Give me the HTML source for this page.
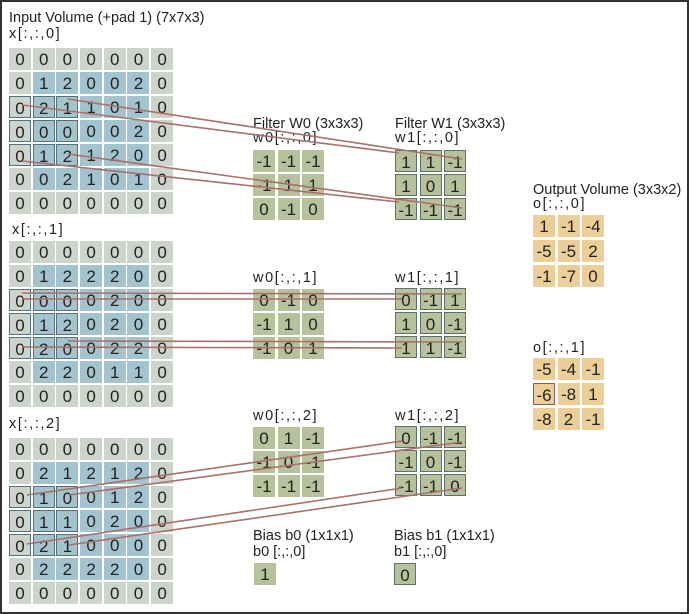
<!DOCTYPE html>
<html><head><style>
body{margin:0;background:#fff}
#f{position:relative;width:685px;height:610px;border:2px solid #333;overflow:hidden;font-family:"Liberation Sans",sans-serif;color:#222}
.g{position:absolute;display:grid;grid-template-columns:repeat(7,22px);column-gap:1.7px;row-gap:2px}
.g3{grid-template-columns:repeat(3,22px);column-gap:2.5px}
.g b{display:block;width:22px;height:22px;line-height:23px;text-align:center;font-weight:normal;font-size:17px;background:#a3c3ce;box-sizing:border-box}
.g b.p{background:#cdd4cb}
.g b.h{border:1.5px solid #55707a}
.w b{background:#b7c29c}
.w1 b{background:#b7c29c;border:1.5px solid #5d7268}
.o b{background:#eccf98}
.o b.r{border:1.5px solid #8a5a55}
.l{position:absolute;font-size:14.5px;line-height:15px;white-space:nowrap}
.l.i{letter-spacing:1.6px}
svg{position:absolute;left:0;top:0}
</style></head><body><div id="f">
<div class="l" style="left:7px;top:9px">Input Volume (+pad 1) (7x7x3)</div>
<div class="l i" style="left:7px;top:25px">x[:,:,0]</div>
<div class="g" style="left:7px;top:46px">
<b class="p">0</b><b class="p">0</b><b class="p">0</b><b class="p">0</b><b class="p">0</b><b class="p">0</b><b class="p">0</b>
<b class="p">0</b><b>1</b><b>2</b><b>0</b><b>0</b><b>2</b><b class="p">0</b>
<b class="p h">0</b><b class="h">2</b><b class="h">1</b><b>1</b><b>0</b><b>1</b><b class="p">0</b>
<b class="p h">0</b><b class="h">0</b><b class="h">0</b><b>0</b><b>0</b><b>2</b><b class="p">0</b>
<b class="p h">0</b><b class="h">1</b><b class="h">2</b><b>1</b><b>2</b><b>0</b><b class="p">0</b>
<b class="p">0</b><b>0</b><b>2</b><b>1</b><b>0</b><b>1</b><b class="p">0</b>
<b class="p">0</b><b class="p">0</b><b class="p">0</b><b class="p">0</b><b class="p">0</b><b class="p">0</b><b class="p">0</b>
</div>
<div class="l i" style="left:10px;top:221px">x[:,:,1]</div>
<div class="g" style="left:7px;top:239px">
<b class="p">0</b><b class="p">0</b><b class="p">0</b><b class="p">0</b><b class="p">0</b><b class="p">0</b><b class="p">0</b>
<b class="p">0</b><b>1</b><b>2</b><b>2</b><b>2</b><b>0</b><b class="p">0</b>
<b class="p h">0</b><b class="h">0</b><b class="h">0</b><b>0</b><b>2</b><b>0</b><b class="p">0</b>
<b class="p h">0</b><b class="h">1</b><b class="h">2</b><b>0</b><b>2</b><b>0</b><b class="p">0</b>
<b class="p h">0</b><b class="h">2</b><b class="h">0</b><b>0</b><b>2</b><b>2</b><b class="p">0</b>
<b class="p">0</b><b>2</b><b>2</b><b>0</b><b>1</b><b>1</b><b class="p">0</b>
<b class="p">0</b><b class="p">0</b><b class="p">0</b><b class="p">0</b><b class="p">0</b><b class="p">0</b><b class="p">0</b>
</div>
<div class="l i" style="left:7px;top:415px">x[:,:,2]</div>
<div class="g" style="left:7px;top:436px">
<b class="p">0</b><b class="p">0</b><b class="p">0</b><b class="p">0</b><b class="p">0</b><b class="p">0</b><b class="p">0</b>
<b class="p">0</b><b>2</b><b>1</b><b>2</b><b>1</b><b>2</b><b class="p">0</b>
<b class="p h">0</b><b class="h">1</b><b class="h">0</b><b>0</b><b>1</b><b>2</b><b class="p">0</b>
<b class="p h">0</b><b class="h">1</b><b class="h">1</b><b>0</b><b>2</b><b>0</b><b class="p">0</b>
<b class="p h">0</b><b class="h">2</b><b class="h">1</b><b>0</b><b>0</b><b>0</b><b class="p">0</b>
<b class="p">0</b><b>2</b><b>2</b><b>2</b><b>2</b><b>0</b><b class="p">0</b>
<b class="p">0</b><b class="p">0</b><b class="p">0</b><b class="p">0</b><b class="p">0</b><b class="p">0</b><b class="p">0</b>
</div>

<div class="l" style="left:251px;top:115px">Filter W0 (3x3x3)</div>
<div class="l i" style="left:251px;top:129px">w0[:,:,0]</div>
<div class="g g3 w" style="left:251px;top:148px"><b>-1</b><b>-1</b><b>-1</b><b>-1</b><b>1</b><b>1</b><b>0</b><b>-1</b><b>0</b></div>
<div class="l i" style="left:251px;top:269px">w0[:,:,1]</div>
<div class="g g3 w" style="left:251px;top:287px"><b>0</b><b>-1</b><b>0</b><b>-1</b><b>1</b><b>0</b><b>-1</b><b>0</b><b>1</b></div>
<div class="l i" style="left:251px;top:407px">w0[:,:,2]</div>
<div class="g g3 w" style="left:251px;top:425px"><b>0</b><b>1</b><b>-1</b><b>-1</b><b>0</b><b>-1</b><b>-1</b><b>-1</b><b>-1</b></div>

<div class="l" style="left:393px;top:115px">Filter W1 (3x3x3)</div>
<div class="l i" style="left:393px;top:129px">w1[:,:,0]</div>
<div class="g g3 w1" style="left:393px;top:148px"><b>1</b><b>1</b><b>-1</b><b>1</b><b>0</b><b>1</b><b>-1</b><b>-1</b><b>-1</b></div>
<div class="l i" style="left:393px;top:269px">w1[:,:,1]</div>
<div class="g g3 w1" style="left:393px;top:286px"><b>0</b><b>-1</b><b>1</b><b>1</b><b>0</b><b>-1</b><b>1</b><b>1</b><b>-1</b></div>
<div class="l i" style="left:393px;top:407px">w1[:,:,2]</div>
<div class="g g3 w1" style="left:393px;top:424px"><b>0</b><b>-1</b><b>-1</b><b>-1</b><b>0</b><b>-1</b><b>-1</b><b>-1</b><b>0</b></div>

<div class="l" style="left:251px;top:527px">Bias b0 (1x1x1)</div>
<div class="l" style="left:251px;top:543px">b0 [:,:,0]</div>
<div class="g g3 w" style="left:252px;top:561px"><b>1</b></div>
<div class="l" style="left:392px;top:527px">Bias b1 (1x1x1)</div>
<div class="l" style="left:392px;top:543px">b1 [:,:,0]</div>
<div class="g g3 w1" style="left:392px;top:561px"><b>0</b></div>

<div class="l" style="left:531px;top:181px">Output Volume (3x3x2)</div>
<div class="l i" style="left:531px;top:195px">o[:,:,0]</div>
<div class="g g3 o" style="left:531px;top:213px;row-gap:3px"><b>1</b><b>-1</b><b>-4</b><b>-5</b><b>-5</b><b>2</b><b>-1</b><b>-7</b><b>0</b></div>
<div class="l i" style="left:531px;top:339px">o[:,:,1]</div>
<div class="g g3 o" style="left:531px;top:356px;row-gap:3px"><b>-5</b><b>-4</b><b>-1</b><b class="r">-6</b><b>-8</b><b>1</b><b>-8</b><b>2</b><b>-1</b></div>

<svg width="685" height="610">
<g stroke="#a8706a" stroke-width="1.6" fill="none">
<line x1="20" y1="103" x2="397" y2="151"/>
<line x1="66" y1="97" x2="460" y2="157"/>
<line x1="20" y1="159" x2="397" y2="200"/>
<line x1="66" y1="152" x2="460" y2="206"/>
<line x1="20" y1="291" x2="460" y2="292"/>
<line x1="20" y1="297" x2="400" y2="297"/>
<line x1="66" y1="339" x2="460" y2="340"/>
<line x1="20" y1="345" x2="400" y2="346"/>
<line x1="25" y1="493" x2="400" y2="439"/>
<line x1="67" y1="493" x2="460" y2="440"/>
<line x1="25" y1="542" x2="400" y2="486"/>
<line x1="67" y1="543" x2="460" y2="486"/>
</g>
</svg>
</div></body></html>
